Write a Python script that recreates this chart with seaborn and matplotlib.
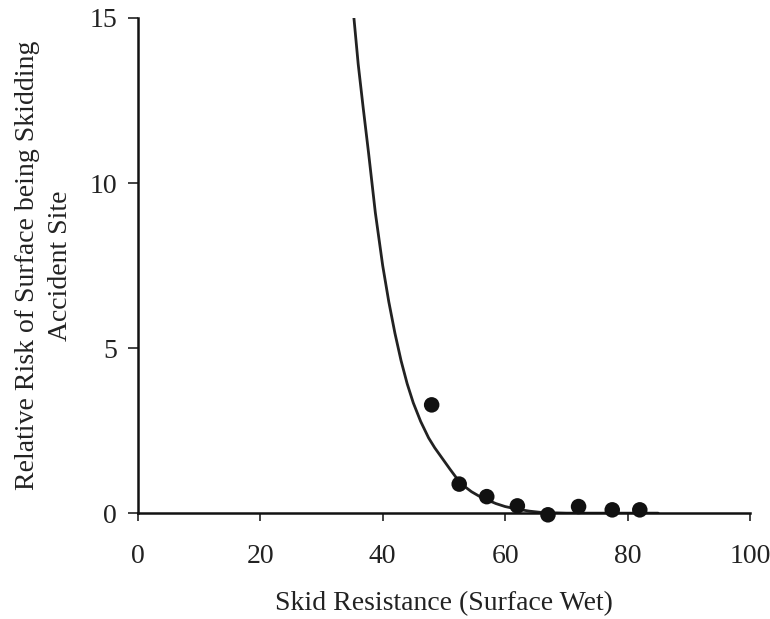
import numpy as np
import pandas as pd
import matplotlib
matplotlib.use("Agg")
import matplotlib.pyplot as plt
import seaborn as sns

# observed relative risk per skid resistance band
skid = [48, 52.5, 57, 62, 67, 72, 77.5, 82]
risk = [3.28, 0.88, 0.50, 0.22, -0.05, 0.20, 0.10, 0.10]

# fitted curve
curve_x = [35.3, 36.0, 36.8, 37.7, 38.8, 39.4, 40.0, 41.0, 42.0, 43.0,
           44.0, 45.0, 46.2, 47.5, 48.5, 49.5, 51.0, 52.2, 53.3, 54.5,
           55.8, 57.1, 58.5, 60.0, 62.0, 64.0, 66.0, 70, 80, 85]
curve_y = [15.0, 13.6, 12.3, 10.9, 9.1, 8.3, 7.5, 6.4, 5.45, 4.62,
           3.92, 3.34, 2.78, 2.28, 1.98, 1.72, 1.33, 1.03, 0.82, 0.65,
           0.51, 0.40, 0.29, 0.20, 0.12, 0.06, 0.02, 0, 0, 0]

x_ticks = [0, 20, 40, 60, 80, 100]
y_ticks = [0, 5, 10, 15]

sns.set_style("ticks")
plt.rcParams['font.family'] = ['Liberation Serif', 'DejaVu Serif']

pts = pd.DataFrame({'skid': skid, 'risk': risk})
fit = pd.DataFrame({'skid': curve_x, 'risk': curve_y})

fig = plt.figure(figsize=(7.7, 6.19), dpi=100)
ax = fig.add_axes([0.179, 0.171, 0.795, 0.80])

sns.lineplot(data=fit, x='skid', y='risk', ax=ax, color='#222222',
             linewidth=2.0, zorder=2)
sns.scatterplot(data=pts, x='skid', y='risk', ax=ax, color='#111111',
                s=125, edgecolor='none', zorder=4, clip_on=False)

ax.set_xlim(0, 100)
ax.set_ylim(0, 15)
ax.set_xticks(x_ticks)
ax.set_yticks(y_ticks)
ax.tick_params(labelsize=20, width=1.2, colors='#222222', direction='out')
ax.tick_params(axis='x', length=6, pad=16)
ax.tick_params(axis='y', length=7, pad=8)
sns.despine(ax=ax)
for side in ['left', 'bottom']:
    ax.spines[side].set_linewidth(1.8)
    ax.spines[side].set_color('#111111')
    ax.spines[side].set_zorder(3)

ax.set_xlabel('Skid Resistance (Surface Wet)', fontsize=20,
              color='#222222', labelpad=16)
ax.set_ylabel('Relative Risk of Surface being Skidding\nAccident Site',
              fontsize=20, color='#222222', labelpad=12, linespacing=1.4)

fig.savefig('out.png', dpi=100)
